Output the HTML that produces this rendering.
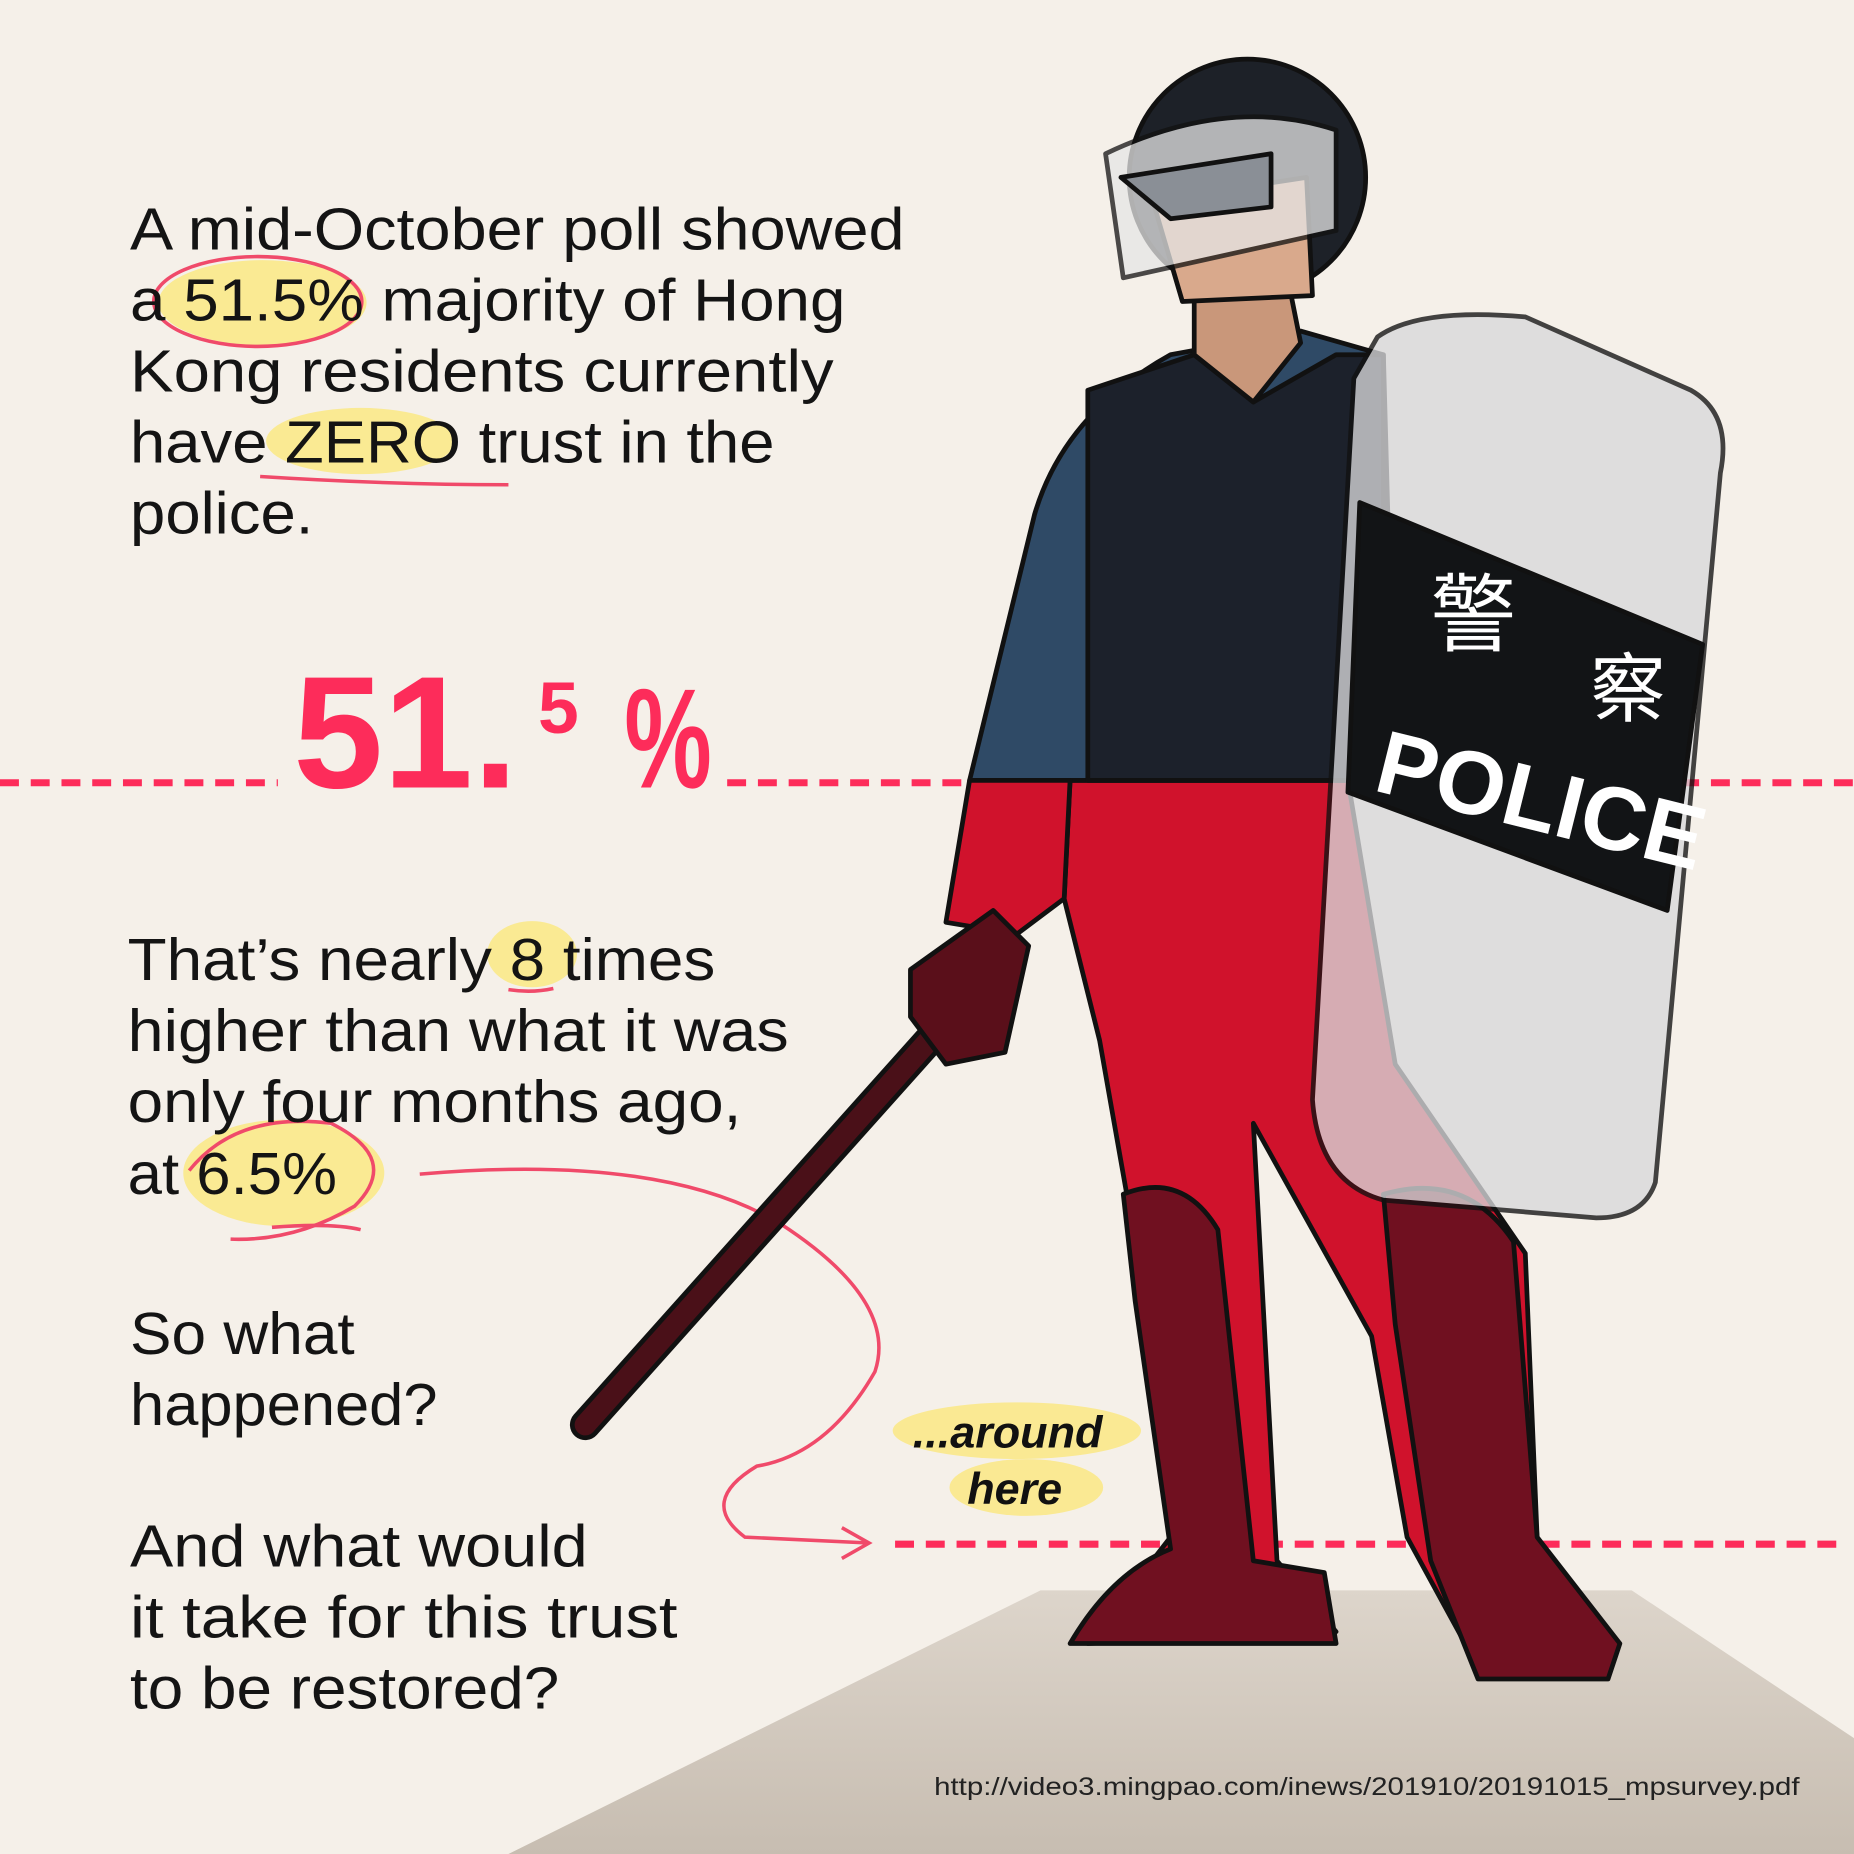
<!DOCTYPE html>
<html><head><meta charset="utf-8"><style>
html,body{margin:0;padding:0;background:#f5f0e9;}
svg{display:block}
.t{font-family:"Liberation Sans","Noto Sans CJK SC",sans-serif;font-size:50px;fill:#141414;}
</style></head><body>
<svg width="1854" height="1854" viewBox="0 0 1568 1568" xmlns="http://www.w3.org/2000/svg">
<defs>
<linearGradient id="g" x1="0" y1="0" x2="0" y2="1"><stop offset="0" stop-color="#ddd5cb"/><stop offset="1" stop-color="#c7bdb1"/></linearGradient>
</defs>
<rect width="1568" height="1568" fill="#f5f0e9"/>
<polygon points="430,1568 880,1345 1380,1345 1568,1470 1568,1568" fill="url(#g)"/>

<g fill="#fbe98a" opacity="0.9">
<ellipse cx="222" cy="256" rx="88" ry="36"/>
<ellipse cx="305" cy="373" rx="80" ry="28"/>
<ellipse cx="450" cy="807" rx="38" ry="28"/>
<ellipse cx="240" cy="992" rx="85" ry="45"/>
<ellipse cx="860" cy="1210" rx="105" ry="24"/>
<ellipse cx="868" cy="1258" rx="65" ry="24"/>
</g>
<g fill="none" stroke="#f04a6a" stroke-width="3">
<ellipse cx="218" cy="255" rx="88" ry="38"/>
<path d="M220 403 Q330 410 430 410"/>
<path d="M430 837 Q450 840 468 836"/>
<path d="M160 990 Q200 940 280 950 Q340 980 300 1020 Q250 1050 195 1048"/>
<path d="M230 1038 Q280 1034 305 1040"/>
<path d="M355 993 Q560 975 660 1035 Q760 1100 740 1160 Q700 1230 640 1240 Q590 1270 630 1300 L735 1305"/>
<path d="M712 1292 L735 1305 L712 1318"/>
</g>

<g>
<text class="t" x="110" y="211" textLength="655" lengthAdjust="spacingAndGlyphs">A mid-October poll showed</text>
<text class="t" x="110" y="271" textLength="605" lengthAdjust="spacingAndGlyphs">a 51.5% majority of Hong</text>
<text class="t" x="110" y="331" textLength="595" lengthAdjust="spacingAndGlyphs">Kong residents currently</text>
<text class="t" x="110" y="391" textLength="545" lengthAdjust="spacingAndGlyphs">have ZERO trust in the</text>
<text class="t" x="110" y="451" textLength="155" lengthAdjust="spacingAndGlyphs">police.</text>
</g>
<g>
<text class="t" x="108" y="829" textLength="497" lengthAdjust="spacingAndGlyphs">That’s nearly 8 times</text>
<text class="t" x="108" y="889" textLength="559" lengthAdjust="spacingAndGlyphs">higher than what it was</text>
<text class="t" x="108" y="949" textLength="519" lengthAdjust="spacingAndGlyphs">only four months ago,</text>
<text class="t" x="108" y="1010" textLength="177" lengthAdjust="spacingAndGlyphs">at 6.5%</text>
</g>
<g>
<text class="t" x="110" y="1145" textLength="190" lengthAdjust="spacingAndGlyphs">So what</text>
<text class="t" x="110" y="1205" textLength="260" lengthAdjust="spacingAndGlyphs">happened?</text>
<text class="t" x="110" y="1325" textLength="387" lengthAdjust="spacingAndGlyphs">And what would</text>
<text class="t" x="110" y="1385" textLength="463" lengthAdjust="spacingAndGlyphs">it take for this trust</text>
<text class="t" x="110" y="1445" textLength="363" lengthAdjust="spacingAndGlyphs">to be restored?</text>
</g>
<text x="790" y="1518" font-family="Liberation Sans,sans-serif" font-size="21" fill="#222" textLength="732" lengthAdjust="spacingAndGlyphs">http://video3.mingpao.com/inews/201910/20191015_mpsurvey.pdf</text>

<g stroke="#fd2c5a" stroke-width="6" stroke-dasharray="16 10">
<line x1="0" y1="662" x2="235" y2="662"/>
<line x1="615" y1="662" x2="1568" y2="662"/>
<line x1="757" y1="1306" x2="1560" y2="1306"/>
</g>

<g stroke="#111" stroke-width="4" stroke-linejoin="round">
<line x1="495" y1="1205" x2="790" y2="875" stroke="#111" stroke-width="26" stroke-linecap="round"/>
<line x1="495" y1="1205" x2="790" y2="875" stroke="#4a1018" stroke-width="18" stroke-linecap="round"/>
<path d="M905 660 L1140 660 L1180 900 L1290 1060 L1300 1300 L1360 1400 L1250 1410 L1190 1300 L1160 1130 L1060 950 L1080 1320 L1130 1380 L920 1390 L990 1300 L960 1050 L930 880 L900 760 Z" fill="#d0122c"/>
<path d="M950 1010 Q1000 990 1030 1040 L1060 1320 L1120 1330 L1130 1390 L905 1390 Q940 1330 990 1310 L960 1100 Z" fill="#701020"/>
<path d="M1170 1010 Q1240 990 1280 1050 L1300 1300 L1370 1390 L1360 1420 L1250 1420 L1210 1320 L1180 1120 Z" fill="#701020"/>
<path d="M875 435 Q900 350 990 300 L1100 280 L1170 300 L1180 660 L820 660 Z" fill="#2f4a66"/>
<path d="M920 330 L1010 300 L1060 340 L1130 300 L1170 300 L1170 660 L920 660 Z" fill="#1c212b"/>
<path d="M820 660 L905 660 L900 760 L860 790 L800 780 Z" fill="#d0122c"/>
<path d="M770 820 L840 770 L870 800 L850 890 L800 900 L770 860 Z" fill="#5a0f1a"/>
<path d="M1010 250 L1090 240 L1100 290 L1060 340 L1010 300 Z" fill="#c9977a"/>
<circle cx="1055" cy="150" r="100" fill="#1d2128"/>
<path d="M975 170 L1105 150 L1110 250 L1000 255 Z" fill="#d9a98c"/>
<path d="M935 130 Q1040 80 1130 110 L1130 195 Q1040 215 950 235 Z" fill="#e6e6e6" opacity="0.75"/>
<path d="M948 150 L1075 130 L1075 175 L990 185 Z" fill="#8a8f96"/>
<g>
<path d="M1165 285 Q1200 260 1290 268 L1430 330 Q1465 350 1455 400 L1400 1000 Q1390 1030 1350 1030 L1170 1015 Q1115 1000 1110 930 L1145 320 Z" fill="#d8d8da" opacity="0.78"/>
<path d="M1150 425 L1440 545 L1410 770 L1140 670 Z" fill="#121416"/>
<text x="1210" y="545" font-family="Noto Sans CJK TC,sans-serif" font-size="72" fill="#fff" stroke="none">警</text>
<text x="1345" y="605" font-family="Noto Sans CJK TC,sans-serif" font-size="64" fill="#fff" stroke="none">察</text>
<text x="1160" y="668" transform="rotate(14 1160 668)" font-family="Liberation Sans,sans-serif" font-weight="bold" font-size="76" fill="#fff" stroke="none">POLICE</text>
</g>
</g>

<g fill="#fd2c5a" font-family="Liberation Sans,sans-serif" font-weight="bold">
<text x="248" y="666" font-size="135" textLength="190" lengthAdjust="spacingAndGlyphs">51.</text>
<text x="455" y="620" font-size="62">5</text>
<text x="528" y="666" font-size="120" textLength="74" lengthAdjust="spacingAndGlyphs">%</text>
</g>

<g font-family="Liberation Sans,sans-serif" font-style="italic" font-weight="bold" font-size="38" fill="#111">
<text x="772" y="1224">...around</text>
<text x="818" y="1272">here</text>
</g>
</svg>
</body></html>
